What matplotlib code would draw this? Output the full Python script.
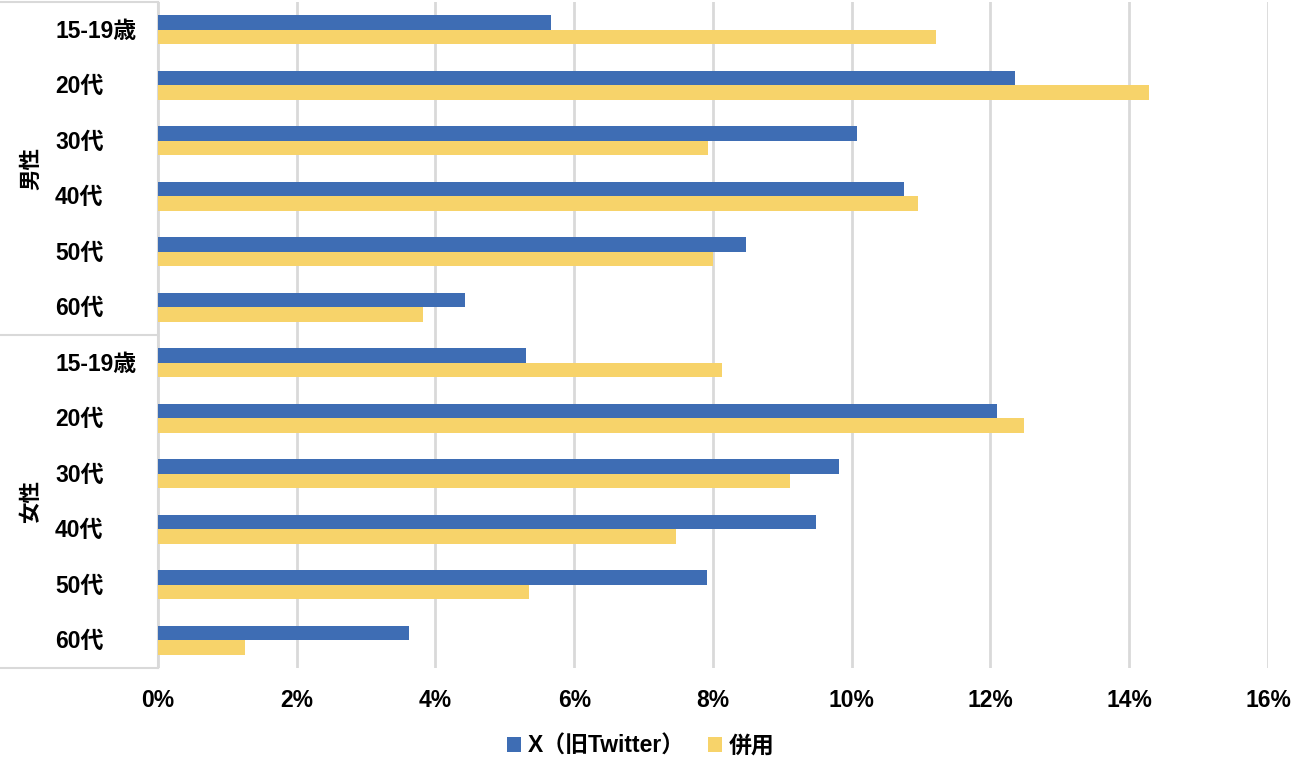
import matplotlib
matplotlib.use("Agg")
import matplotlib.pyplot as plt
import numpy as np

plt.rcParams['font.family'] = ['Liberation Sans', 'Noto Sans CJK JP', 'DejaVu Sans']
plt.rcParams['font.weight'] = 'bold'

groups = ["男性", "女性"]
ages = ["15-19歳", "20代", "30代", "40代", "50代", "60代"]
series_names = ["X（旧Twitter）", "併用"]
x_male = [5.67, 12.35, 10.08, 10.76, 8.48, 4.43]
x_female = [5.31, 12.10, 9.81, 9.48, 7.91, 3.62]
both_male = [11.22, 14.28, 7.93, 10.96, 8.00, 3.82]
both_female = [8.13, 12.48, 9.11, 7.47, 5.35, 1.25]
xticks = [0, 2, 4, 6, 8, 10, 12, 14, 16]

blue = '#3E6DB4'
yellow = '#F7D36A'
grid = '#D9D9D9'

W, H = 1300, 764
fig = plt.figure(figsize=(13, 7.64), dpi=100)
L, R, T, B = 158, 1268, 2, 668
ax = fig.add_axes([L / W, 1 - B / H, (R - L) / W, (B - T) / H])

xs = x_male + x_female
bs = both_male + both_female
n = len(xs)
pos = np.arange(n)
bh = 0.26
ax.barh(pos - bh / 2, xs, height=bh, color=blue, label=series_names[0], zorder=3)
ax.barh(pos + bh / 2, bs, height=bh, color=yellow, label=series_names[1], zorder=3)

ax.set_ylim(n - 0.5, -0.5)
ax.set_xlim(0, 16)
ax.set_xticks(xticks)
ax.set_xticklabels([f"{t}%" for t in xticks], fontsize=16.5, fontweight='bold')
ax.tick_params(axis='x', length=0, pad=15)
ax.set_yticks([])
for s in ['top', 'right', 'bottom']:
    ax.spines[s].set_visible(False)
ax.spines['left'].set_color(grid)
ax.spines['left'].set_linewidth(1.5)
ax.xaxis.grid(True, color=grid, linewidth=2, zorder=0)
ax.set_axisbelow(True)

# category area box
pw = R - L
x0 = -L / pw
for yv in [-0.5, 5.5, 11.5]:
    ax.plot([x0, 0], [yv, yv], transform=ax.get_yaxis_transform(), color=grid,
            lw=1.5, clip_on=False)

labels = ages + ages
for i, lab in enumerate(labels):
    ax.text(-103 / pw, i + 0.03, lab, transform=ax.get_yaxis_transform(), ha='left',
            va='center', fontsize=16.5, fontweight='bold')

for gi, g in enumerate(groups):
    ax.text(-126 / pw, gi * 6 + 2.5, g, transform=ax.get_yaxis_transform(),
            ha='center', va='center', rotation=90, fontsize=15.5, fontweight='bold')

fig.legend(loc='center', bbox_to_anchor=(0.493, 1 - 746 / H), ncol=2, frameon=False,
           handlelength=0.6, handleheight=0.6, handletextpad=0.3, columnspacing=1.0,
           prop={'size': 16.5, 'weight': 'bold'})

fig.savefig("out.png", dpi=100)
